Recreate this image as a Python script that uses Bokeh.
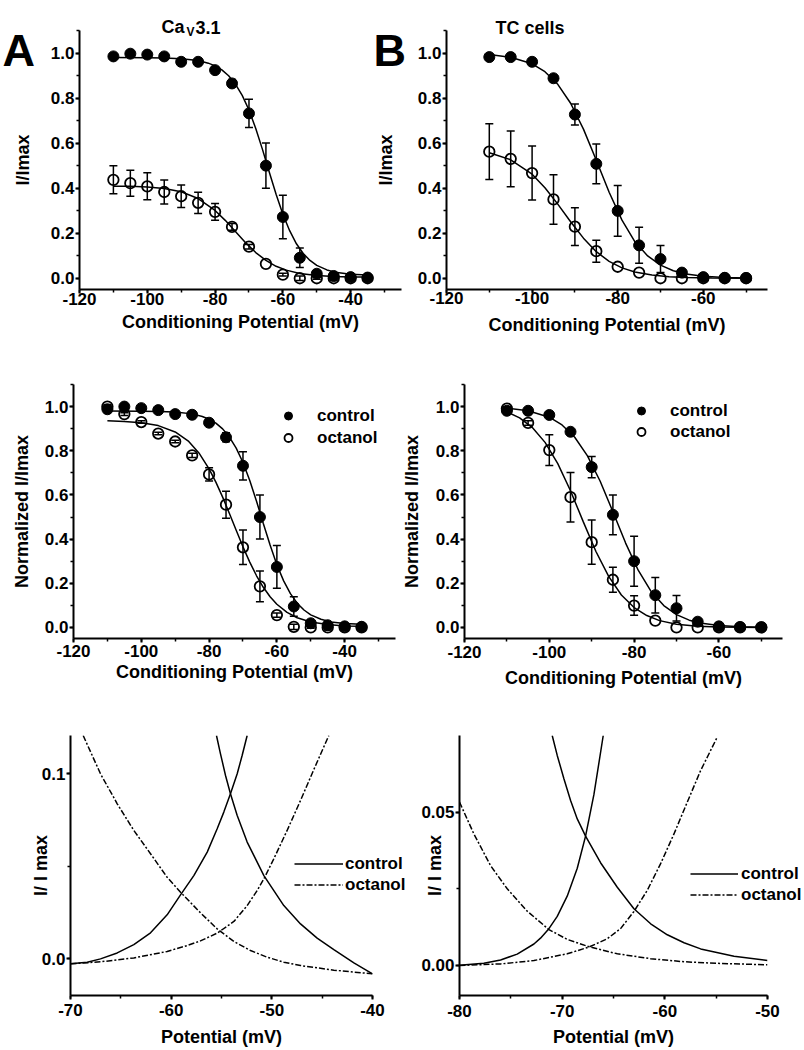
from bokeh.plotting import figure
from bokeh.models import (Range1d, SingleIntervalTicker, PrintfTickFormatter, Whisker, TeeHead,
                          ColumnDataSource, Legend, LegendItem, Label)
from bokeh.layouts import column, row
from bokeh.embed import file_html
from bokeh.resources import INLINE

FONT = "Liberation Sans"

# ---------------- data: panel A (CaV3.1, I/Imax) ----------------
v_a = [-110, -105, -100, -95, -90, -85, -80, -75, -70, -65, -60, -55, -50, -45, -40, -35]
ctrl_a = [0.985, 0.997, 0.993, 0.985, 0.961, 0.961, 0.924, 0.865, 0.732, 0.50, 0.272, 0.091, 0.02, 0.01, 0.005, 0.003]
ctrl_a_err = [0, 0, 0, 0, 0, 0, 0.012, 0.017, 0.063, 0.10, 0.097, 0.043, 0.008, 0, 0, 0]
oct_a = [0.437, 0.422, 0.408, 0.383, 0.364, 0.335, 0.295, 0.228, 0.14, 0.064, 0.016, 0.0, 0.0, 0.0, 0.0, 0.0]
oct_a_err = [0.062, 0.058, 0.06, 0.053, 0.05, 0.047, 0.037, 0.015, 0.01, 0, 0.006, 0.01, 0.004, 0.01, 0, 0]
fit_v_a_ctrl = [-110, -100, -95, -90, -85, -82, -80, -78, -76, -74, -72, -70, -68, -66, -64, -62, -60,
                -58, -56, -54, -52, -50, -47, -44, -40, -35]
fit_a_ctrl = [0.980, 0.979, 0.978, 0.975, 0.967, 0.955, 0.943, 0.925, 0.899, 0.862, 0.812, 0.747, 0.665,
              0.571, 0.471, 0.373, 0.284, 0.211, 0.153, 0.110, 0.079, 0.057, 0.037, 0.025, 0.018, 0.014]
fit_v_a_oct = [-110, -105, -100, -95, -90, -85, -80, -77, -74, -71, -68, -65, -62, -59, -55, -50, -45, -40, -35]
fit_a_oct = [0.409, 0.408, 0.405, 0.398, 0.384, 0.354, 0.301, 0.257, 0.208, 0.158, 0.114, 0.079, 0.053,
             0.036, 0.021, 0.012, 0.008, 0.006, 0.006]

# ---------------- data: panel B (TC cells, I/Imax) ----------------
v_b = [-110, -105, -100, -95, -90, -85, -80, -75, -70, -65, -60, -55, -50]
ctrl_b = [0.982, 0.982, 0.961, 0.888, 0.727, 0.508, 0.299, 0.146, 0.085, 0.025, 0.005, 0.002, 0.001]
ctrl_b_err = [0, 0, 0, 0, 0.047, 0.088, 0.113, 0.08, 0.06, 0, 0, 0, 0]
oct_b = [0.562, 0.530, 0.467, 0.350, 0.229, 0.12, 0.051, 0.025, 0.0, 0.0, 0.0, 0.0, 0.0]
oct_b_err = [0.124, 0.124, 0.12, 0.11, 0.084, 0.049, 0, 0, 0, 0, 0, 0, 0]
fit_v_b_ctrl = [-110, -105, -100, -97, -94, -91, -88, -85, -82, -79, -76, -73, -70, -67, -64, -60, -55, -50]
fit_b_ctrl = [0.993, 0.981, 0.952, 0.917, 0.861, 0.777, 0.662, 0.524, 0.382, 0.258, 0.163, 0.099, 0.058,
              0.033, 0.019, 0.009, 0.003, 0.001]
fit_v_b_oct = [-110, -105, -100, -97, -94, -91, -88, -85, -82, -79, -76, -72, -68, -64, -58, -50]
fit_b_oct = [0.557, 0.526, 0.462, 0.402, 0.329, 0.251, 0.178, 0.118, 0.075, 0.046, 0.028, 0.014, 0.007,
             0.003, 0.001, 0.0]

# ---------------- data: panel C (CaV3.1, normalized) ----------------
ctrl_c = [0.988, 1.0, 0.993, 0.984, 0.966, 0.963, 0.927, 0.861, 0.732, 0.50, 0.274, 0.095, 0.019, 0.01, 0.005, 0.003]
ctrl_c_err = [0, 0, 0, 0, 0, 0, 0.01, 0.02, 0.064, 0.10, 0.097, 0.044, 0.008, 0, 0, 0]
oct_c = [1.0, 0.966, 0.93, 0.878, 0.842, 0.779, 0.693, 0.556, 0.363, 0.186, 0.056, 0.003, 0.0, 0.0, 0.0, 0.0]
oct_c_err = [0.008, 0.006, 0.006, 0.006, 0.006, 0.01, 0.03, 0.061, 0.078, 0.07, 0.01, 0.012, 0.004, 0.012, 0, 0]
fit_v_c_oct = [-110, -105, -100, -95, -90, -86, -83, -80, -78, -76, -74, -72, -70, -68, -66, -64, -62, -60,
               -57, -54, -50, -45, -40, -35]
fit_c_oct = [0.936, 0.933, 0.927, 0.914, 0.885, 0.842, 0.790, 0.718, 0.658, 0.590, 0.516, 0.440, 0.365,
             0.296, 0.234, 0.182, 0.139, 0.105, 0.068, 0.044, 0.025, 0.013, 0.007, 0.005]

# ---------------- data: panel D (TC cells, normalized) ----------------
ctrl_d = [0.981, 0.981, 0.962, 0.886, 0.726, 0.510, 0.300, 0.146, 0.087, 0.026, 0.005, 0.002, 0.001]
ctrl_d_err = [0, 0, 0, 0, 0.048, 0.09, 0.113, 0.08, 0.058, 0, 0, 0, 0]
oct_d = [0.991, 0.926, 0.803, 0.59, 0.386, 0.216, 0.099, 0.031, 0.0, 0.0, 0.0, 0.0, 0.0]
oct_d_err = [0.008, 0.01, 0.07, 0.112, 0.1, 0.057, 0.044, 0, 0, 0, 0, 0, 0]
fit_v_d_oct = [-110, -107, -104, -101, -98, -95, -92, -89, -86, -83, -80, -77, -74, -70, -65, -60, -55, -50]
fit_d_oct = [0.976, 0.949, 0.905, 0.838, 0.742, 0.619, 0.479, 0.344, 0.231, 0.147, 0.090, 0.054, 0.031,
             0.015, 0.006, 0.002, 0.001, 0.0]

# ---------------- data: panel E (CaV3.1 window, zoom) ----------------
e_ctrl_act_v = [-70.0, -68.34, -67.02, -65.36, -63.71, -62.05, -60.40, -59.07, -57.75, -56.42, -55.43,
                -54.77, -54.11, -53.44, -52.95, -52.45]
e_ctrl_act = [-0.0027, -0.0018, 0.0, 0.0032, 0.0077, 0.0141, 0.0238, 0.0346, 0.0450, 0.0577, 0.0703,
              0.0793, 0.0892, 0.1000, 0.1099, 0.1207]
e_ctrl_inact_v = [-55.50, -55.10, -54.60, -54.11, -53.44, -52.45, -50.79, -48.81, -47.15, -45.50, -43.84,
                  -41.85, -40.0]
e_ctrl_inact = [0.1207, 0.1108, 0.0991, 0.0892, 0.0775, 0.0631, 0.0450, 0.0288, 0.0189, 0.0112, 0.0050,
                -0.0022, -0.0081]
e_oct_inact_v = [-68.74, -67.02, -65.36, -63.71, -62.05, -60.40, -59.07, -57.09, -55.43, -53.77, -52.12,
                 -50.46, -48.81, -47.15, -43.84, -40.0]
e_oct_inact = [0.1207, 0.1000, 0.0838, 0.0694, 0.0568, 0.0441, 0.0360, 0.0249, 0.0162, 0.0094, 0.0045,
               0.0009, -0.0018, -0.0036, -0.0061, -0.0081]
e_oct_act_v = [-70.0, -67.02, -63.71, -60.40, -58.41, -57.09, -55.43, -53.77, -52.45, -51.46, -50.79,
               -49.80, -48.48, -47.15, -45.83, -44.34]
e_oct_act = [-0.0027, -0.0016, 0.0005, 0.0040, 0.0072, 0.0097, 0.0139, 0.0202, 0.0288, 0.0369, 0.0432,
             0.0541, 0.0694, 0.0856, 0.1023, 0.1207]

# ---------------- data: panel F (TC cells window, zoom) ----------------
f_ctrl_act_v = [-80.0, -77.63, -76.0, -74.38, -72.75, -72.11, -71.29, -70.48, -69.51, -68.53, -67.72,
                -66.91, -66.42, -66.0]
f_ctrl_act = [0.0001, 0.0007, 0.0018, 0.0037, 0.0070, 0.0089, 0.0120, 0.0160, 0.0226, 0.0317, 0.0422,
              0.0557, 0.0661, 0.0750]
f_ctrl_inact_v = [-70.97, -70.48, -69.83, -69.18, -68.53, -67.72, -66.26, -64.63, -63.01, -61.38, -59.76,
                  -58.13, -56.51, -53.26, -50.0]
f_ctrl_inact = [0.0750, 0.0685, 0.0609, 0.0538, 0.0478, 0.0422, 0.0335, 0.0255, 0.0185, 0.0136, 0.0100,
                0.0074, 0.0054, 0.0030, 0.0016]
f_oct_inact_v = [-80.0, -78.60, -76.98, -75.35, -73.40, -71.29, -69.51, -67.39, -64.63, -61.38, -58.13,
                 -54.89, -50.0]
f_oct_inact = [0.0533, 0.0429, 0.0326, 0.0250, 0.0177, 0.0117, 0.0085, 0.0061, 0.0038, 0.0022, 0.0012,
               0.0007, 0.0002]
f_oct_act_v = [-80.0, -76.0, -72.75, -69.51, -67.39, -65.61, -64.31, -63.01, -61.71, -60.41, -59.11,
               -57.81, -56.51, -54.89]
f_oct_act = [0.0, 0.0005, 0.0016, 0.0038, 0.0060, 0.0087, 0.0120, 0.0176, 0.0245, 0.0332, 0.0429,
             0.0533, 0.0636, 0.0745]

legend_labels = ["control", "octanol"]

# ---------------- helpers ----------------

def transparent(p):
    p.outline_line_color = None
    p.background_fill_alpha = 0
    p.border_fill_alpha = 0


def make_fig(w, h, xr, yr, borders, xint, yint, yfmt, xlab, ylab, xso, xtso, yso, ytso, margin=None):
    bl, br, bt, bb = borders
    kw = {}
    if margin is not None:
        kw["margin"] = margin
    p = figure(width=w, height=h, x_range=Range1d(*xr), y_range=Range1d(*yr),
               output_backend="svg", toolbar_location=None, min_border=0,
               min_border_left=bl, min_border_right=br, min_border_top=bt, min_border_bottom=bb, **kw)
    transparent(p)
    p.xgrid.visible = False
    p.ygrid.visible = False
    p.xaxis.ticker = SingleIntervalTicker(interval=xint, num_minor_ticks=2)
    p.yaxis.ticker = SingleIntervalTicker(interval=yint, num_minor_ticks=2)
    p.xaxis.formatter = PrintfTickFormatter(format="%d")
    p.yaxis.formatter = PrintfTickFormatter(format=yfmt)
    for ax in (p.xaxis[0], p.yaxis[0]):
        ax.axis_line_width = 2
        ax.axis_line_color = "black"
        ax.major_tick_line_width = 2
        ax.minor_tick_line_width = 1.5
        ax.major_tick_line_color = "black"
        ax.minor_tick_line_color = "black"
        ax.major_tick_in = 0
        ax.major_tick_out = 4
        ax.minor_tick_in = 0
        ax.minor_tick_out = 3
        ax.major_label_text_font = FONT
        ax.major_label_text_font_style = "bold"
        ax.major_label_text_font_size = "17px"
        ax.major_label_text_color = "black"
        ax.axis_label_text_font = FONT
        ax.axis_label_text_font_style = "bold"
        ax.axis_label_text_font_size = "18px"
        ax.axis_label_text_color = "black"
    p.xaxis[0].axis_label = xlab
    p.yaxis[0].axis_label = ylab
    p.xaxis[0].major_label_standoff = xso
    p.xaxis[0].axis_label_standoff = xtso
    p.yaxis[0].major_label_standoff = yso
    p.yaxis[0].axis_label_standoff = ytso
    return p


def add_err(p, xs, ys, es):
    sel = [(x, y, e) for x, y, e in zip(xs, ys, es) if e > 0]
    src = ColumnDataSource(dict(x=[s[0] for s in sel],
                                lo=[s[1] - s[2] for s in sel],
                                hi=[s[1] + s[2] for s in sel]))
    w = Whisker(source=src, base="x", lower="lo", upper="hi", line_width=1.5, line_color="black",
                upper_head=TeeHead(size=8, line_width=1.5, line_color="black"),
                lower_head=TeeHead(size=8, line_width=1.5, line_color="black"))
    p.add_layout(w)


def add_points(p, xs, ys, es, filled):
    add_err(p, xs, ys, es)
    if filled:
        return p.scatter(xs, ys, marker="circle", size=11, fill_color="black", line_color="black")
    return p.scatter(xs, ys, marker="circle", size=10.5, fill_alpha=0, line_color="black", line_width=1.8)


def add_legend(p, items, loc, gw, gh, lh, spacing, standoff):
    lg = Legend(items=items, location=loc, orientation="vertical", padding=0, margin=0,
                spacing=spacing, glyph_width=gw, glyph_height=gh, label_height=lh,
                label_standoff=standoff, border_line_color=None, background_fill_alpha=0,
                label_text_font=FONT, label_text_font_style="bold", label_text_font_size="17px",
                label_text_color="black")
    p.add_layout(lg)


def add_text(p, x, y, text, size):
    p.add_layout(Label(x=x, y=y, x_units="data", y_units="data", text=text, text_font=FONT,
                       text_font_style="bold", text_font_size=size, text_color="black",
                       text_align="left", text_baseline="alphabetic"))

XT = "Conditioning Potential (mV)"

# ---------------- panel A ----------------
pA = make_fig(420, 345, (-120, -25), (-0.05, 1.1), (79, 19, 27, 56), 20, 0.2, "%.1f",
              XT, "I/Imax", -1, 4, 1, 15, margin=(-350, 0, 0, 0))
pA.line(fit_v_a_ctrl, fit_a_ctrl, line_color="black", line_width=1.5)
pA.line(fit_v_a_oct, fit_a_oct, line_color="black", line_width=1.5)
add_points(pA, v_a, ctrl_a, ctrl_a_err, True)
add_points(pA, v_a, oct_a, oct_a_err, False)

# ---------------- panel B ----------------
pB = make_fig(434, 345, (-120, -45), (-0.05, 1.1), (76, 37, 30, 52), 20, 0.2, "%.1f",
              XT, "I/Imax", -2, 8, 1, 19, margin=(-350, 0, 0, -50))
pB.line(fit_v_b_ctrl, fit_b_ctrl, line_color="black", line_width=1.5)
pB.line(fit_v_b_oct, fit_b_oct, line_color="black", line_width=1.5)
add_points(pB, v_b, ctrl_b, ctrl_b_err, True)
add_points(pB, v_b, oct_b, oct_b_err, False)

# ---------------- panel C ----------------
pC = make_fig(398, 355, (-120, -25), (-0.05, 1.1), (73, 3, 34, 58), 20, 0.2, "%.1f",
              XT, "Normalized I/Imax", 2, 2, 1, 10)
pC.line(fit_v_a_ctrl, fit_a_ctrl, line_color="black", line_width=1.5)
pC.line(fit_v_c_oct, fit_c_oct, line_color="black", line_width=1.5)
rc1 = add_points(pC, v_a, ctrl_c, ctrl_c_err, True)
rc2 = add_points(pC, v_a, oct_c, oct_c_err, False)
add_legend(pC, [LegendItem(label=legend_labels[0], renderers=[rc1]),
                LegendItem(label=legend_labels[1], renderers=[rc2])],
           (205, 190), 20, 21, 21, 1, 19)

# ---------------- panel D ----------------
pD = make_fig(406, 355, (-120, -45), (-0.05, 1.1), (63, 22, 27, 67), 20, 0.2, "%.1f",
              XT, "Normalized I/Imax", 3, 7, 1, 11)
pD.line(fit_v_b_ctrl, fit_b_ctrl, line_color="black", line_width=1.5)
pD.line(fit_v_d_oct, fit_d_oct, line_color="black", line_width=1.5)
rd1 = add_points(pD, v_b, ctrl_d, ctrl_d_err, True)
rd2 = add_points(pD, v_b, oct_d, oct_d_err, False)
add_legend(pD, [LegendItem(label=legend_labels[0], renderers=[rd1]),
                LegendItem(label=legend_labels[1], renderers=[rd2])],
           (167, 196), 20, 21, 21, 0, 19)

# ---------------- panel E ----------------
pE = make_fig(408, 350, (-70, -40), (-0.0198, 0.1207), (70, 36, 30, 60), 10, 0.1, "%.1f",
              "Potential (mV)", "I/ I max", 4, 8, 1, -12)
pE.line(e_ctrl_act_v, e_ctrl_act, line_color="black", line_width=1.5)
pE.line(e_ctrl_inact_v, e_ctrl_inact, line_color="black", line_width=1.5)
pE.line(e_oct_inact_v, e_oct_inact, line_color="black", line_width=1.5, line_dash="6 2 2 2")
pE.line(e_oct_act_v, e_oct_act, line_color="black", line_width=1.5, line_dash="6 2 2 2")

# ---------------- panel F ----------------
pF = make_fig(396, 350, (-80, -50), (-0.0098, 0.075), (51, 37, 30, 60), 10, 0.05, "%.2f",
              "Potential (mV)", "I/ I max", 5, 7, 1, -27)
pF.line(f_ctrl_act_v, f_ctrl_act, line_color="black", line_width=1.5)
pF.line(f_ctrl_inact_v, f_ctrl_inact, line_color="black", line_width=1.5)
pF.line(f_oct_inact_v, f_oct_inact, line_color="black", line_width=1.5, line_dash="6 2 2 2")
pF.line(f_oct_act_v, f_oct_act, line_color="black", line_width=1.5, line_dash="6 2 2 2")

# ---------------- overlay (top band): panel letters and titles ----------------
pO = figure(width=804, height=350, x_range=Range1d(0, 804), y_range=Range1d(350, 0),
            output_backend="svg", toolbar_location=None, min_border=0,
            x_axis_location=None, y_axis_location=None)
transparent(pO)
pO.grid.visible = False
add_text(pO, 2, 50, "A", "45px")
add_text(pO, 161, 26.7, "Ca", "18px")
add_text(pO, 186, 31.5, "V", "12px")
add_text(pO, 195, 26.7, "3.1", "18px")
add_text(pO, 373, 50, "B", "45px")
add_text(pO, 495, 27, "TC cells", "18px")

# ---------------- overlay (bottom band): window-current legends ----------------
pL = figure(width=804, height=350, x_range=Range1d(0, 804), y_range=Range1d(350, 0),
            output_backend="svg", toolbar_location=None, min_border=0,
            x_axis_location=None, y_axis_location=None, margin=(-350, 0, 0, 0))
transparent(pL)
pL.grid.visible = False
# legend sample renderers: the panel-E series themselves, which fall outside this overlay's view
ls = pL.line(e_ctrl_act_v, e_ctrl_act, line_color="black", line_width=1.5)
ld = pL.line(e_oct_act_v, e_oct_act, line_color="black", line_width=1.5, line_dash="6 2 2 2")
add_legend(pL, [LegendItem(label=legend_labels[0], renderers=[ls]),
                LegendItem(label=legend_labels[1], renderers=[ld])],
           (294, 160), 49, 21, 21, -4, 2)
add_legend(pL, [LegendItem(label=legend_labels[0], renderers=[ls]),
                LegendItem(label=legend_labels[1], renderers=[ld])],
           (690, 150), 48, 21, 21, -1, 3)

layout = column(pO, row(pA, pB), row(pC, pD), row(pE, pF), pL)

open("out.html", "w").write(file_html(layout, INLINE))
